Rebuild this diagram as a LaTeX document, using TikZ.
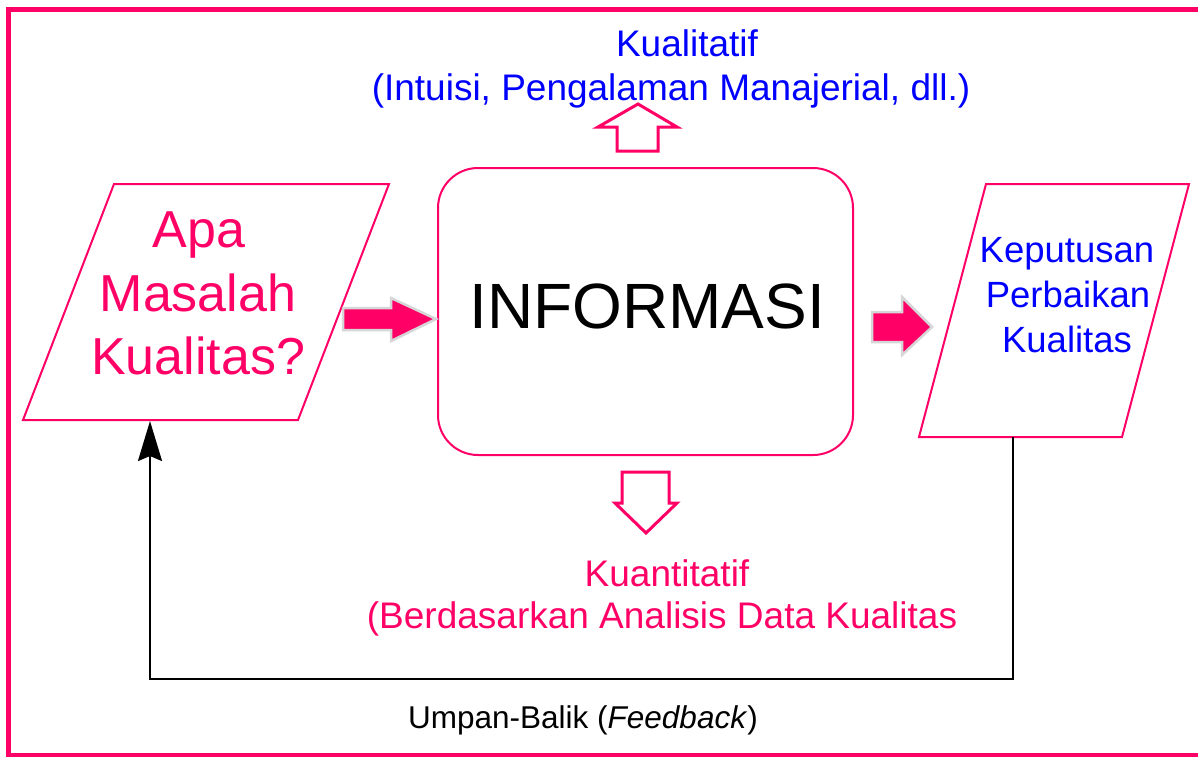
\documentclass[tikz,border=0pt]{standalone}
\usepackage{fontspec}
\setmainfont{Liberation Sans}
\usetikzlibrary{arrows.meta}
\definecolor{rose}{RGB}{255,0,102}
\definecolor{ink}{RGB}{0,0,255}
\definecolor{rim}{RGB}{214,214,214}
\newcommand{\fs}[1]{\fontsize{#1}{#1}\selectfont}
\tikzset{
  frame/.style={draw=rose, line width=5pt},
  databox/.style={draw=rose, line width=2pt, line join=miter},
  infobox/.style={draw=rose, line width=2pt, rounded corners=40pt},
  bigarrow/.style={fill=rose, draw=rim, line width=2.5pt, line join=miter},
  hollowarrow/.style={draw=rose, line width=3pt, line join=miter, fill=white},
  feedback/.style={draw=black, line width=2.2pt},
  lbl/.style={inner sep=0pt, anchor=base},
  asktext/.style={lbl, text=rose, font=\fs{52}},
  decidetext/.style={lbl, text=ink, font=\fs{36.5}},
  sidetext/.style={lbl, font=\fs{37}},
}
\begin{document}
\begin{tikzpicture}[x=1pt, y=-1pt]
  \useasboundingbox (0,0) rectangle (1198,756);
  \clip (0,0) rectangle (1198,756);

  % outer frame (runs past the right and bottom edges)
  \draw[frame] (8.5,9.5) rectangle (1210,755.5);

  % input parallelogram
  \draw[databox] (114,184) -- (389,184) -- (298,420) -- (23,420) -- cycle;
  \node[asktext] (ask1) at (199,247) {Apa};
  \node[asktext] (ask2) at (198,311) {Masalah};
  \node[asktext] (ask3) at (198,374) {Kualitas?};
  \coordinate (askbottom) at (150,421);

  % central information box
  \draw[infobox] (438,168) rectangle (853,455);
  \node[lbl, font=\fs{64}] (info) at (647,328) {INFORMASI};

  % output parallelogram
  \draw[databox] (986,184) -- (1189,184) -- (1122,437) -- (919,437) -- cycle;
  \node[decidetext] (dec1) at (1067,262) {Keputusan};
  \node[decidetext] (dec2) at (1068,307) {Perbaikan};
  \node[decidetext] (dec3) at (1067,352) {Kualitas};
  \coordinate (decbottom) at (1013,437);

  % flow arrows
  \draw[bigarrow] (343,308) -- (391,308) -- (391,298) -- (436,319)
                  -- (391,341) -- (391,330) -- (343,330) -- cycle;
  \draw[bigarrow] (872,312) -- (902,312) -- (902,297) -- (932,327)
                  -- (902,355) -- (902,342) -- (872,342) -- cycle;

  % qualitative branch
  \draw[hollowarrow] (638,104) -- (677,127) -- (658,127) -- (658,151)
                     -- (617,151) -- (617,127) -- (598,127) -- cycle;
  \node[sidetext, text=ink] (qual1) at (687,56) {Kualitatif};
  \node[sidetext, text=ink] (qual2) at (671,100) {(Intuisi, Pengalaman Manajerial, dll.)};

  % quantitative branch
  \draw[hollowarrow] (622,472) -- (669,472) -- (669,503) -- (677,503)
                     -- (646,533) -- (615,503) -- (622,503) -- cycle;
  \node[sidetext, text=rose] (quan1) at (667,586) {Kuantitatif};
  \node[sidetext, text=rose] (quan2) at (662,628) {(Berdasarkan Analisis Data Kualitas};

  % feedback loop
  \draw[feedback, -{Stealth[length=40pt, width=24pt, inset=5pt]}]
    (decbottom) -- (decbottom |- 0,679) -- (askbottom |- 0,679) -- (askbottom);
  \node[lbl, font=\fs{31.5}] (fb) at (583,728) {Umpan-Balik (\textit{Feedback})};
\end{tikzpicture}
\end{document}
